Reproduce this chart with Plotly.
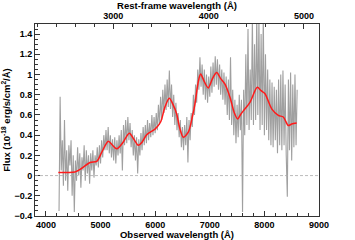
import plotly.graph_objects as go

# Observed-frame grey spectrum (20 Å sampling)
grey_wave = list(range(4240, 8601, 20))
grey_flux = [
    -0.35, 0.78, 0.05, 0.35, -0.10, 0.55, -0.05, 0.25, -0.15, 0.30, 0.10, 0.35, -0.20, 0.20,
    -0.36, 0.15, -0.05, 0.28, 0.00, 0.22, -0.12, 0.18, 0.05, 0.30, -0.05, 0.25, 0.02, 0.20, -0.08,
    0.22, 0.05, 0.25, -0.02, 0.20, 0.10, 0.28, 0.08, 0.30, 0.12, 0.35, 0.18, 0.40, 0.25, 0.45,
    0.25, 0.48, 0.22, 0.40, 0.18, 0.36, 0.15, 0.38, 0.12, 0.35, 0.20, 0.40, 0.22, 0.45, 0.05,
    0.50, 0.30, 0.55, 0.32, 0.58, 0.35, 0.52, 0.28, 0.45, 0.20, 0.40, 0.15, 0.38, 0.02, 0.36,
    0.20, 0.42, 0.25, 0.48, 0.30, 0.50, 0.32, 0.55, 0.35, 0.52, 0.38, 0.60, 0.40, 0.58, 0.42,
    0.62, 0.45, 0.70, 0.50, 0.78, 0.55, 0.85, 0.62, 0.90, 0.65, 0.95, 0.68, 1.04, 0.66, 0.90,
    0.58, 0.80, 0.50, 0.72, 0.45, 0.62, 0.38, 0.55, 0.28, 0.48, 0.25, 0.50, 0.30, 0.58, 0.13,
    0.55, 0.35, 0.62, 0.48, 0.80, 0.60, 0.90, 0.72, 1.05, 0.85, 1.17, 0.88, 1.10, 0.80, 1.05,
    0.75, 1.00, 0.72, 0.98, 0.78, 1.08, 0.82, 1.12, 0.88, 1.18, 0.90, 1.15, 0.85, 1.10, 0.80,
    1.05, 0.75, 1.02, 0.70, 0.98, 0.60, 0.95, 0.55, 1.17, 0.50, 0.85, 0.40, 0.75, 0.32, 0.70,
    0.38, 0.80, 0.45, 0.75, -0.36, 0.85, 0.40, 1.20, 0.50, 1.45, 0.45, 1.05, 0.55, 1.55, 0.50,
    1.30, 0.55, 1.60, 0.60, 1.55, 0.45, 1.40, 0.50, 1.60, 0.40, 1.20, 0.45, 1.05, 0.35, 0.95,
    0.30, 0.92, 0.28, 0.88, 0.35, 0.85, 0.22, 0.95, 0.30, 1.00, 0.25, 1.04, 0.30, 0.90, 0.20,
    -0.21, 0.95, 0.25, 1.02, 0.15, 0.90, 0.28, 1.00, 0.30, 0.85,
]

# Smoothed model (red)
red_wave = [4227, 4400, 4530, 4650, 4807, 4930, 5030, 5142, 5220, 5296, 5400, 5527, 5610,
            5692, 5760, 5845, 5997, 6100, 6180, 6259, 6330, 6394, 6450, 6515, 6607, 6680,
            6729, 6790, 6833, 6900, 6973, 7050, 7126, 7200, 7278, 7370, 7450, 7511, 7560,
            7614, 7736, 7870, 7940, 8011, 8134, 8255, 8346, 8438, 8500, 8591]
red_flux = [0.03, 0.03, 0.035, 0.07, 0.13, 0.14, 0.24, 0.34, 0.30, 0.265, 0.32, 0.42, 0.36,
            0.30, 0.33, 0.405, 0.46, 0.53, 0.68, 0.765, 0.70, 0.61, 0.47, 0.38, 0.43, 0.58,
            0.71, 0.93, 1.005, 0.93, 0.867, 0.96, 1.02, 0.96, 0.905, 0.775, 0.62, 0.56, 0.60,
            0.64, 0.725, 0.873, 0.84, 0.81, 0.66, 0.595, 0.58, 0.495, 0.51, 0.52]

redshift = 0.745
obs_range = [3800, 9000]
y_range = [-0.4, 1.5]

FONT = "Liberation Sans, Arial, sans-serif"
AX = "#333333"

fig = go.Figure()
fig.add_trace(go.Scatter(x=grey_wave, y=grey_flux, mode="lines",
                         line=dict(color="#a0a0a0", width=1.1), showlegend=False,
                         hoverinfo="skip"))
fig.add_trace(go.Scatter(x=red_wave, y=red_flux, mode="lines",
                         line=dict(color="#ff1a1a", width=1.5, shape="spline", smoothing=0.8),
                         showlegend=False))
# invisible trace on the rest-frame (top) axis
fig.add_trace(go.Scatter(x=[obs_range[0] / (1 + redshift)], y=[0], xaxis="x2",
                         mode="markers", marker=dict(opacity=0), showlegend=False,
                         hoverinfo="skip"))

fig.add_hline(y=0, line=dict(color="#aaaaaa", width=0.8, dash="3px,2px"))

tickfont = dict(family=FONT, size=9, color="#000", weight="bold")
titlefont = dict(family=FONT, size=9.5, color="#000", weight="bold")

fig.update_layout(
    width=355, height=240,
    margin=dict(l=35, r=36, t=24, b=24),
    paper_bgcolor="white", plot_bgcolor="white",
    xaxis=dict(range=obs_range, dtick=1000, tick0=4000, ticks="inside", ticklen=5,
               tickcolor=AX, showline=True, linecolor=AX, linewidth=1, mirror=False,
               showgrid=False, zeroline=False, tickfont=tickfont, automargin=False,
               minor=dict(dtick=200, ticks="inside", ticklen=3, tickcolor=AX, showgrid=False),
               title=dict(text="Observed wavelength (Å)", font=titlefont, standoff=1)),
    xaxis2=dict(range=[obs_range[0] / (1 + redshift), obs_range[1] / (1 + redshift)],
                overlaying="x", side="top", dtick=1000, tick0=3000, ticks="inside",
                ticklen=5, tickcolor=AX, showline=True, linecolor=AX, linewidth=1,
                showgrid=False, zeroline=False, tickfont=tickfont, automargin=False,
                minor=dict(dtick=200, ticks="inside", ticklen=3, tickcolor=AX, showgrid=False),
                title=dict(text="Rest-frame wavelength (Å)", font=titlefont, standoff=1)),
    yaxis=dict(range=y_range, dtick=0.2, tick0=0, ticks="inside", ticklen=5, tickcolor=AX,
               showline=True, linecolor=AX, linewidth=1, mirror=True, showgrid=False,
               zeroline=False, tickfont=tickfont, tickformat="~g", automargin=False,
               minor=dict(dtick=0.05, ticks="inside", ticklen=3, tickcolor=AX, showgrid=False),
               title=dict(text="Flux (10<sup>-18</sup> erg/s/cm<sup>2</sup>/Å)", font=titlefont,
                          standoff=2)),
)

fig.write_html("out.html", config={"displayModeBar": False},
               post_script="document.body.style.margin='0px';document.body.style.overflow='hidden';")
